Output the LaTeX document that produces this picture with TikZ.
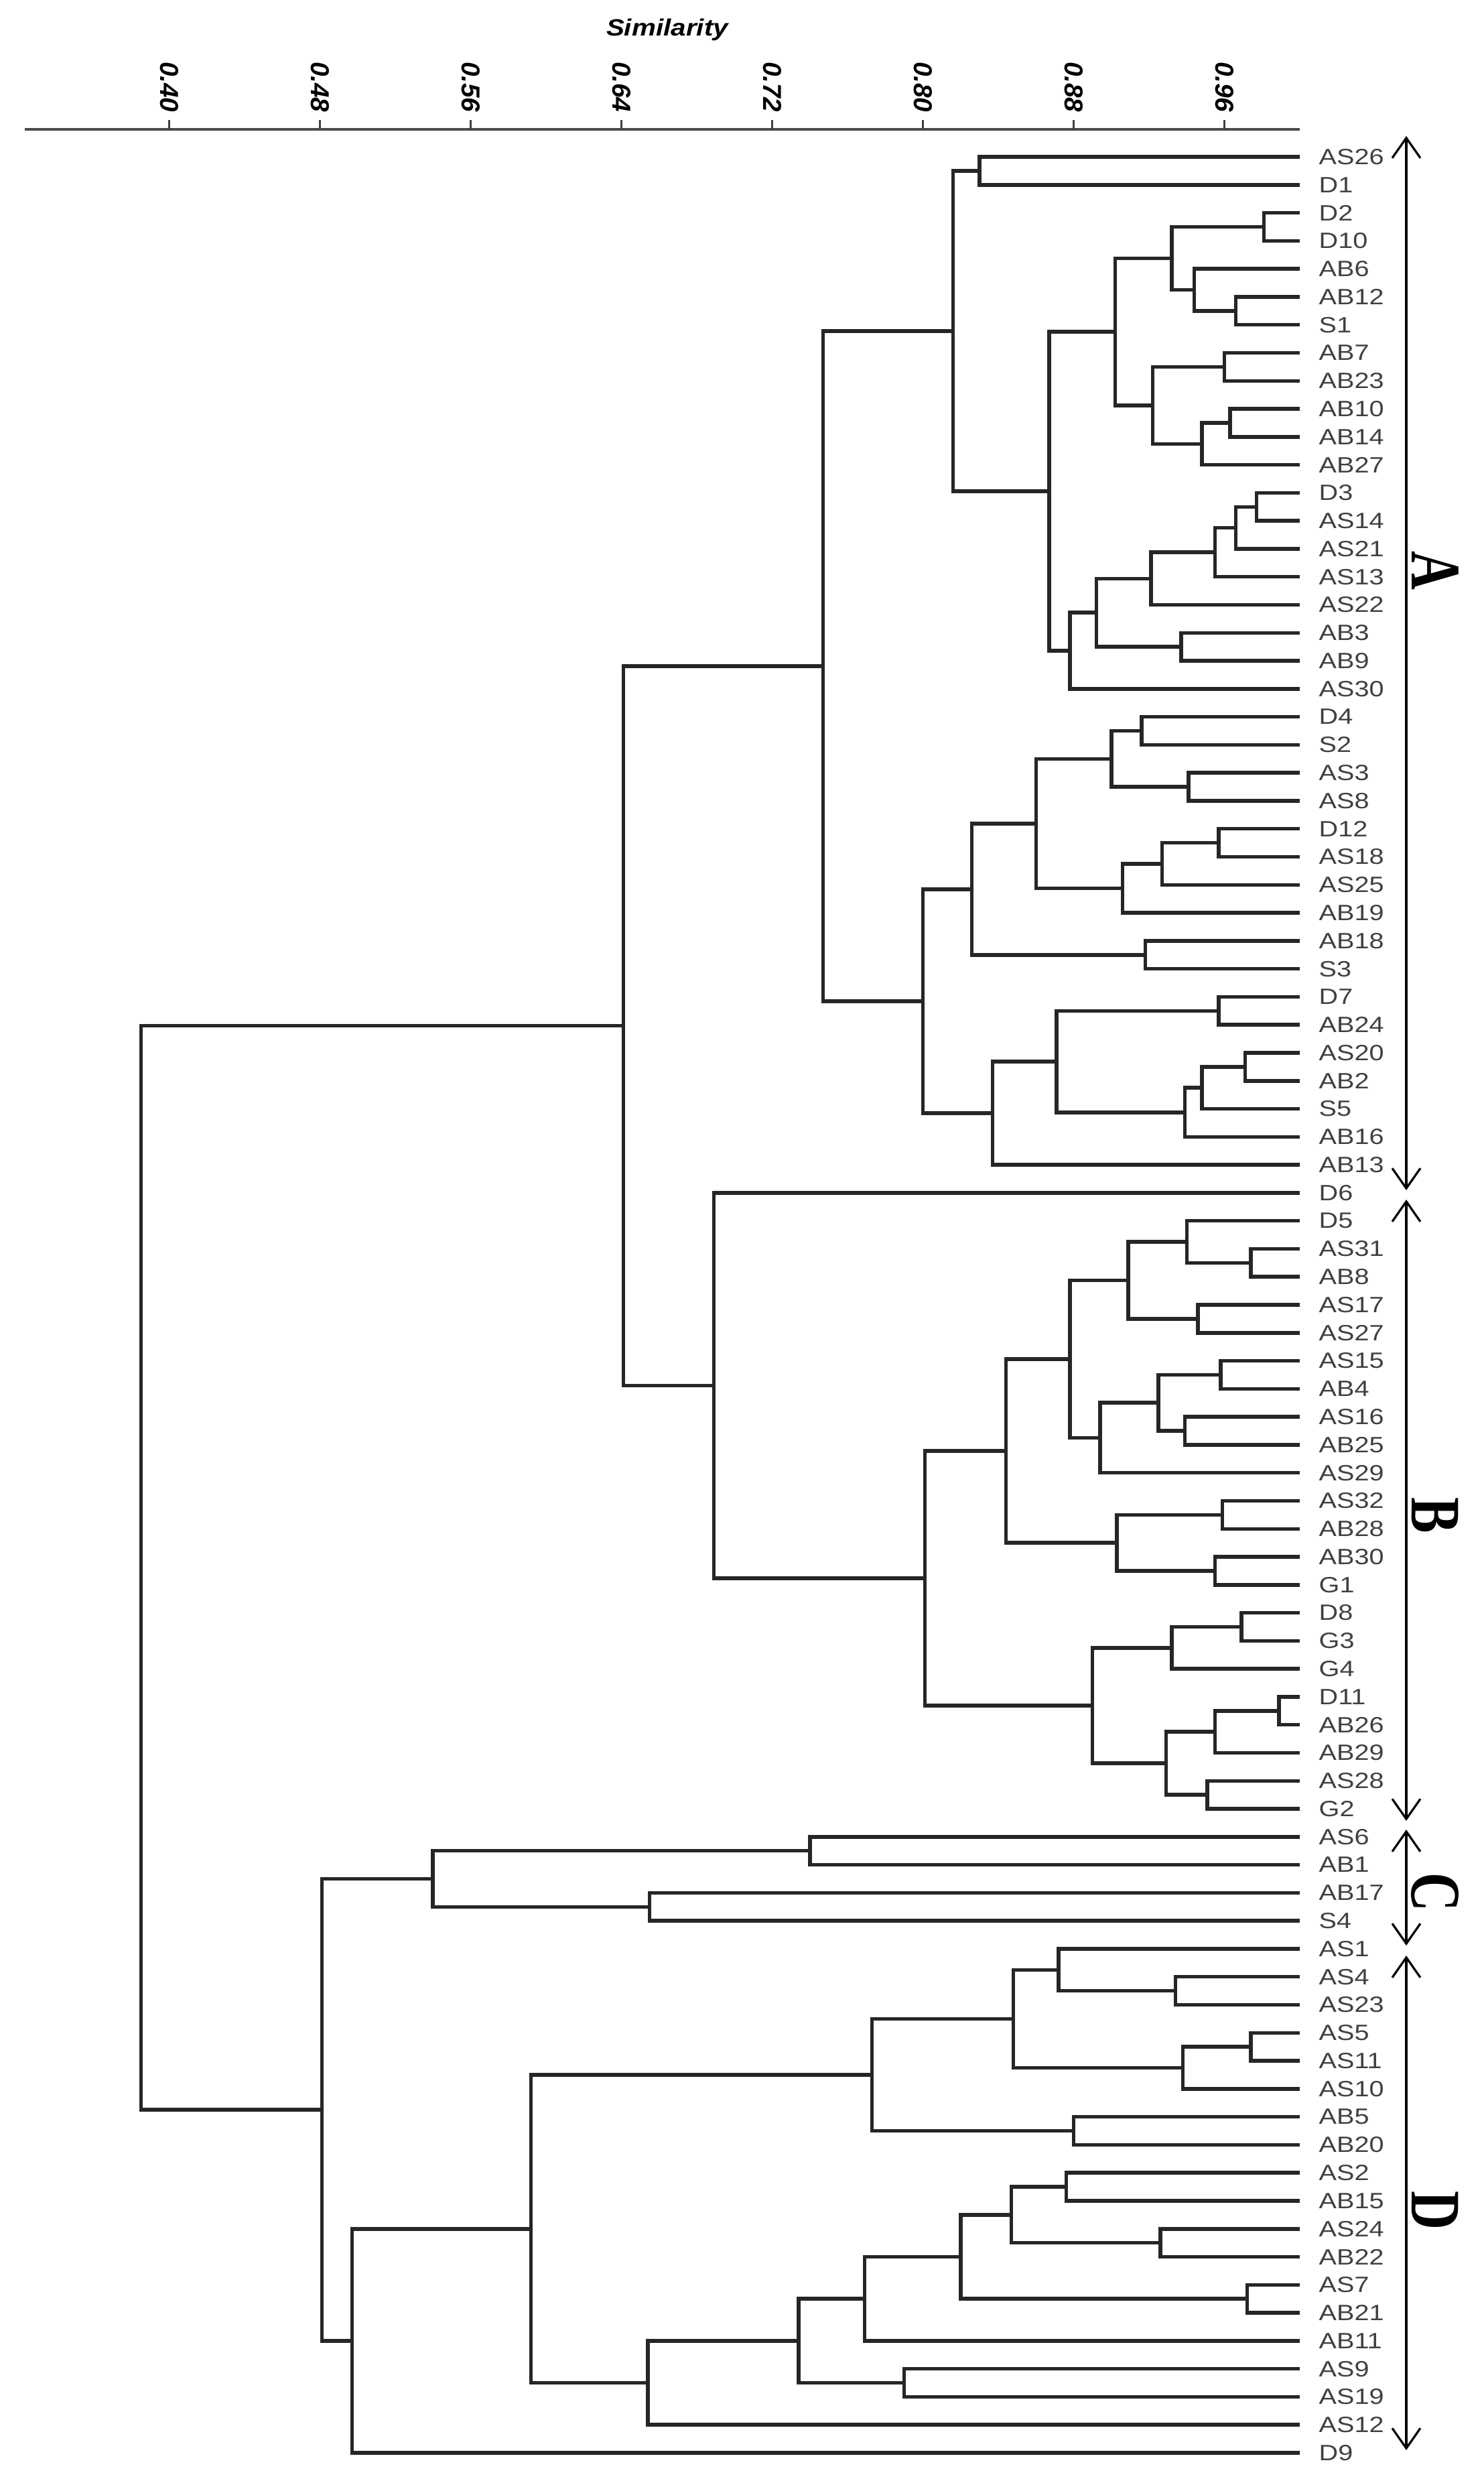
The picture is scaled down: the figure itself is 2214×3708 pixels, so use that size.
\documentclass[tikz,border=0pt]{standalone}
\usepackage{graphicx}
\usepackage{fontspec}
\setmainfont{Liberation Sans}
\newfontfamily\leaffont[FakeStretch=1.2]{Liberation Sans}
\newfontfamily\groupfont{Liberation Serif}
\usetikzlibrary{calc,arrows.meta}

% #1 name, #2 similarity level, #3 and #4 the two joined branches
\newcommand\mergepair[4]{%
  \path let \p1=(#3), \p2=(#4) in
    ({(1940-(1-#2)*2812.5)*0.1mm},{0.5*(\y1)+0.5*(\y2)}) coordinate (#1);
  \draw[branch] (#3) -| (#1) |- (#4);}

\begin{document}
\begin{tikzpicture}[x=0.1mm,y=-0.1mm,
        branch/.style={line width=0.55mm,black!85},
        leaf/.style={anchor=west,inner sep=0pt,text=black!75,font=\leaffont\fontsize{9.4}{10}\selectfont},
        ticklab/.style={rotate=-90,anchor=east,inner sep=0pt,font=\fontsize{11}{12}\selectfont\bfseries\itshape},
        tickmark/.style={line width=0.3mm,black!75},
        axisline/.style={line width=0.45mm,black!70},
        grp/.style={rotate=-90,anchor=base,inner sep=0pt,font=\groupfont\fontsize{22.8}{24}\selectfont\bfseries},
        span/.style={line width=0.32mm,<->,>={Straight Barb[length=3mm,width=4.2mm]}}]
        \useasboundingbox (0,0) rectangle (2214,3708);
        % axis
        \node[anchor=base,inner sep=0pt,font=\fontsize{10}{12}\selectfont\bfseries\itshape] (simlab) at (996,53) {\scalebox{1.15}[1]{Similarity}};
        \coordinate (ax0) at (37,193);
        \coordinate (ax1) at (1940,193);
        \draw[axisline] (ax0) -- (ax1);
        \foreach \v [count=\k] in {0.40,0.48,0.56,0.64,0.72,0.80,0.88,0.96} {
          \coordinate (tk\k) at ({1940-(1-\v)*2812.5},193);
          \draw[tickmark] (tk\k) -- ++(0,-14);
          \node[ticklab] (tl\k) at ({1940-(1-\v)*2812.5},168) {\v};
        }
        % leaves
        \foreach \lab [count=\i] in {AS26,D1,D2,D10,AB6,AB12,S1,AB7,AB23,AB10,AB14,AB27,D3,AS14,AS21,AS13,AS22,AB3,AB9,AS30,D4,S2,AS3,AS8,D12,AS18,AS25,AB19,AB18,S3,D7,AB24,AS20,AB2,S5,AB16,AB13,D6,D5,AS31,AB8,AS17,AS27,AS15,AB4,AS16,AB25,AS29,AS32,AB28,AB30,G1,D8,G3,G4,D11,AB26,AB29,AS28,G2,AS6,AB1,AB17,S4,AS1,AS4,AS23,AS5,AS11,AS10,AB5,AB20,AS2,AB15,AS24,AB22,AS7,AB21,AB11,AS9,AS19,AS12,D9} {
          \coordinate (\lab) at (1940,{234+(\i-1)*41.78});
          \node[leaf] (n\lab) at (1968,{234+(\i-1)*41.78}) {\lab};
        }
        % cluster A
        \mergepair{a0}{0.830}{AS26}{D1}
        \mergepair{a1}{0.981}{D2}{D10}
        \mergepair{a2}{0.966}{AB12}{S1}
        \mergepair{a3}{0.944}{AB6}{a2}
        \mergepair{a4}{0.932}{a1}{a3}
        \mergepair{a5}{0.960}{AB7}{AB23}
        \mergepair{a6}{0.963}{AB10}{AB14}
        \mergepair{a7}{0.948}{a6}{AB27}
        \mergepair{a8}{0.922}{a5}{a7}
        \mergepair{a9}{0.902}{a4}{a8}
        \mergepair{a10}{0.977}{D3}{AS14}
        \mergepair{a11}{0.966}{a10}{AS21}
        \mergepair{a12}{0.955}{a11}{AS13}
        \mergepair{a13}{0.921}{a12}{AS22}
        \mergepair{a14}{0.937}{AB3}{AB9}
        \mergepair{a15}{0.892}{a13}{a14}
        \mergepair{a16}{0.878}{a15}{AS30}
        \mergepair{a17}{0.867}{a9}{a16}
        \mergepair{a18}{0.816}{a0}{a17}
        \mergepair{a19}{0.916}{D4}{S2}
        \mergepair{a20}{0.941}{AS3}{AS8}
        \mergepair{a21}{0.900}{a19}{a20}
        \mergepair{a22}{0.957}{D12}{AS18}
        \mergepair{a23}{0.927}{a22}{AS25}
        \mergepair{a24}{0.906}{a23}{AB19}
        \mergepair{a25}{0.860}{a21}{a24}
        \mergepair{a26}{0.918}{AB18}{S3}
        \mergepair{a27}{0.826}{a25}{a26}
        \mergepair{a28}{0.957}{D7}{AB24}
        \mergepair{a29}{0.971}{AS20}{AB2}
        \mergepair{a30}{0.948}{a29}{S5}
        \mergepair{a31}{0.939}{a30}{AB16}
        \mergepair{a32}{0.871}{a28}{a31}
        \mergepair{a33}{0.837}{a32}{AB13}
        \mergepair{a34}{0.800}{a27}{a33}
        \mergepair{nA}{0.747}{a18}{a34}
        % cluster B
        \mergepair{b1}{0.974}{AS31}{AB8}
        \mergepair{b2}{0.940}{D5}{b1}
        \mergepair{b3}{0.946}{AS17}{AS27}
        \mergepair{b4}{0.909}{b2}{b3}
        \mergepair{b5}{0.958}{AS15}{AB4}
        \mergepair{b6}{0.939}{AS16}{AB25}
        \mergepair{b7}{0.925}{b5}{b6}
        \mergepair{b8}{0.894}{b7}{AS29}
        \mergepair{b9}{0.878}{b4}{b8}
        \mergepair{b10}{0.959}{AS32}{AB28}
        \mergepair{b11}{0.955}{AB30}{G1}
        \mergepair{b12}{0.903}{b10}{b11}
        \mergepair{b13}{0.844}{b9}{b12}
        \mergepair{b14}{0.969}{D8}{G3}
        \mergepair{b15}{0.932}{b14}{G4}
        \mergepair{b16}{0.989}{D11}{AB26}
        \mergepair{b17}{0.955}{b16}{AB29}
        \mergepair{b18}{0.951}{AS28}{G2}
        \mergepair{b19}{0.929}{b17}{b18}
        \mergepair{b20}{0.890}{b15}{b19}
        \mergepair{b21}{0.801}{b13}{b20}
        \mergepair{nB}{0.689}{D6}{b21}
        \mergepair{nAB}{0.641}{nA}{nB}
        % cluster C
        \mergepair{c1}{0.740}{AS6}{AB1}
        \mergepair{c2}{0.655}{AB17}{S4}
        \mergepair{nC}{0.540}{c1}{c2}
        % cluster D
        \mergepair{d1}{0.934}{AS4}{AS23}
        \mergepair{d2}{0.872}{AS1}{d1}
        \mergepair{d3}{0.974}{AS5}{AS11}
        \mergepair{d4}{0.938}{d3}{AS10}
        \mergepair{d5}{0.848}{d2}{d4}
        \mergepair{d6}{0.880}{AB5}{AB20}
        \mergepair{d7}{0.773}{d5}{d6}
        \mergepair{d8}{0.876}{AS2}{AB15}
        \mergepair{d9}{0.926}{AS24}{AB22}
        \mergepair{d10}{0.847}{d8}{d9}
        \mergepair{d11}{0.972}{AS7}{AB21}
        \mergepair{d12}{0.820}{d10}{d11}
        \mergepair{d13}{0.769}{d12}{AB11}
        \mergepair{d14}{0.790}{AS9}{AS19}
        \mergepair{d15}{0.734}{d13}{d14}
        \mergepair{d16}{0.654}{d15}{AS12}
        \mergepair{d17}{0.592}{d7}{d16}
        \mergepair{nD}{0.497}{d17}{D9}
        \mergepair{nCD}{0.481}{nC}{nD}
        \mergepair{root}{0.385}{nAB}{nCD}
        % group brackets
        \coordinate (A1) at (2099,203);  \coordinate (A2) at (2099,1776);
        \coordinate (B1) at (2099,1790); \coordinate (B2) at (2099,2717);
        \coordinate (C1) at (2099,2730); \coordinate (C2) at (2099,2903);
        \coordinate (D1e) at (2099,2918); \coordinate (D2e) at (2099,3656);
        \draw[span] (A1) -- (A2);
        \draw[span] (B1) -- (B2);
        \draw[span] (C1) -- (C2);
        \draw[span] (D1e) -- (D2e);
        \node[grp] (gA) at (2107,851) {\scalebox{1}[1.32]{A}};
        \node[grp] (gB) at (2107,2261) {\scalebox{1}[1.32]{B}};
        \node[grp] (gC) at (2107,2823) {\scalebox{1}[1.32]{C}};
        \node[grp] (gD) at (2107,3298) {\scalebox{1}[1.32]{D}};
   \end{tikzpicture}
\end{document}
